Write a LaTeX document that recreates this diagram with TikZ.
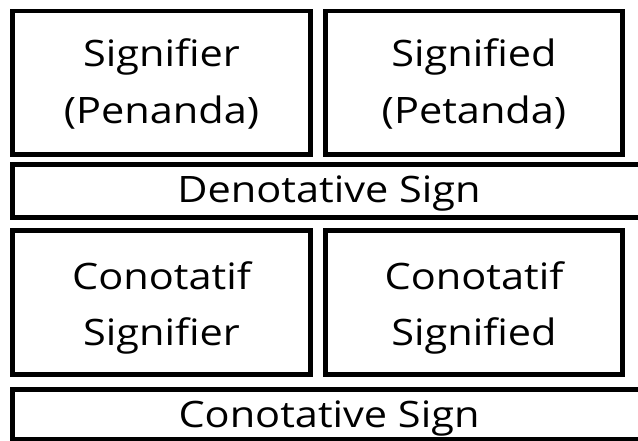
\documentclass[tikz,border=0pt]{standalone}
\usepackage{fontspec}
\setmainfont{Open Sans}
\newfontfamily\lblfont[FakeStretch=1.14]{Open Sans}
\begin{document}
\begin{tikzpicture}[x=1pt,y=-1pt,
  frame/.style={draw=black,line width=4.5pt,fill=white},
  lbl/.style={inner sep=0pt,anchor=base,font=\lblfont\fontsize{36.4}{40}\selectfont,text=black}]
\useasboundingbox (0,0) rectangle (638,440);
\clip (0,0) rectangle (638,440);
\fill[white] (0,0) rectangle (638,440);
% top boxes
\draw[frame] (12.5,11) rectangle (310.5,154.5);
\draw[frame] (325.5,11) rectangle (622.5,154.5);
\node[lbl] (t1) at (161.5,66.7) {Signifier};
\node[lbl] (t2) at (161.5,123.3) {(Penanda)};
\node[lbl] (t3) at (474,66.7) {Signified};
\node[lbl] (t4) at (474,123.3) {(Petanda)};
% denotative bar
\draw[frame] (12.5,164.5) rectangle (650,217.5);
\node[lbl] (d1) at (329,202.5) {Denotative Sign};
% lower boxes
\draw[frame] (12.5,230.5) rectangle (310.5,374.5);
\draw[frame] (325.5,230.5) rectangle (622.5,374.5);
\node[lbl] (c1) at (161.5,289) {Conotatif};
\node[lbl] (c2) at (161.5,345) {Signifier};
\node[lbl] (c3) at (474,289) {Conotatif};
\node[lbl] (c4) at (474,345) {Signified};
% conotative bar
\draw[frame] (12.5,389.5) rectangle (650,439.5);
\node[lbl] (k1) at (329,427.5) {Conotative Sign};
\end{tikzpicture}
\end{document}
